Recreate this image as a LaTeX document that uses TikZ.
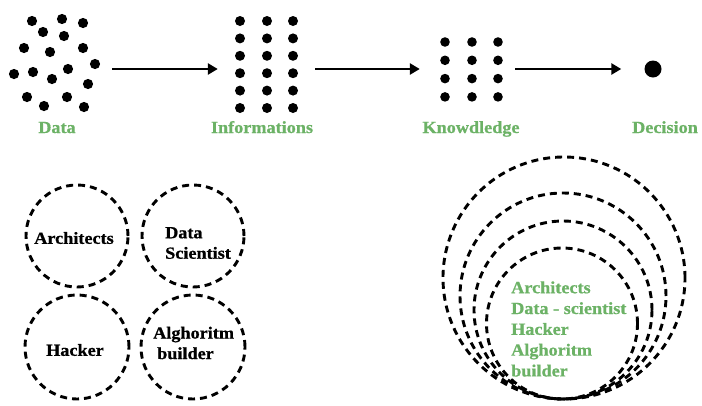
\documentclass[tikz,border=0pt]{standalone}
\usepackage{fontspec}
\setmainfont{Liberation Serif}[FakeStretch=1.07, BoldFeatures={FakeBold=0.8}]
\usetikzlibrary{arrows.meta}
\definecolor{lgreen}{RGB}{108,178,102}
\tikzset{
  dot/.style={fill=black},
  grp/.style={draw=none, inner sep=0pt, minimum height=90pt},
  arr/.style={line width=2.5pt, -{Triangle[length=10pt,width=11pt]}},
  lbl/.style={font=\fontsize{17}{20}\selectfont\bfseries, text=lgreen, inner sep=0pt},
  ctext/.style={font=\fontsize{17}{20.5}\selectfont\bfseries, text=black, inner sep=0pt, align=left},
  dcirc/.style={circle, draw=black, line width=2.9pt, dash pattern=on 7pt off 5pt, inner sep=0pt},
}
\begin{document}
\begin{tikzpicture}[x=1pt,y=-1pt]
\useasboundingbox (0,0) rectangle (702,405);
% Data dots
\foreach \p in {(32,21),(62,19),(83,23),(43,32),(64,36),(24,48),(50,52),(83,48),(95,64),(14,74),(33,72),(68,69),(52,79),(88,84),(27,97),(44,106),(67,97),(84,107)}
  \fill[dot] \p circle (5.1pt);
% Information dots
\foreach \x in {240,267,293}
  \foreach \k in {0,...,5}
    \fill[dot] (\x,21+17.4*\k) circle (5pt);
% Knowledge dots
\foreach \x in {445,472,498}
  \foreach \k in {0,...,3}
    \fill[dot] (\x,42+18.3*\k) circle (4.8pt);
% group nodes
\node[grp, minimum width=91pt] (data) at (54.5,69) {};
\node[grp, minimum width=63pt] (info) at (266.5,69) {};
\node[grp, minimum width=61pt] (know) at (471.5,69) {};
\node[circle, fill=black, minimum size=17pt, inner sep=0pt] (dec) at (653,69) {};
% arrows
\draw[arr, shorten <=12pt, shorten >=17pt] (data.east) -- (info.west);
\draw[arr, shorten <=17pt, shorten >=21pt] (info.east) -- (know.west);
\draw[arr, shorten <=13pt, shorten >=23pt] (know.east) -- (dec.west);
% labels
\node[lbl, anchor=base] (ldata) at (57,133) {Data};
\node[lbl, anchor=base] (linfo) at (262,133) {Informations};
\node[lbl, anchor=base] (lknow) at (471,133) {Knowdledge};
\node[lbl, anchor=base] (ldec) at (665,133) {Decision};
% left circles
\node[dcirc, minimum size=102pt] (c1) at (77,236) {};
\node[dcirc, minimum size=102pt] (c2) at (193,236) {};
\node[dcirc, minimum size=104pt] (c3) at (77,347) {};
\node[dcirc, minimum size=104pt] (c4) at (193,347) {};
\node[ctext] (t1) at (74,238) {Architects};
\node[ctext, anchor=west] (t2) at (165,243) {Data\\Scientist};
\node[ctext] (t3) at (75,350) {Hacker};
\node[ctext, anchor=west] (t4) at (153,343) {Alghoritm\\\hspace*{4pt}builder};
% right concentric circles
\node[dcirc, minimum size=242pt] (r1) at (564,278) {};
\node[dcirc, minimum size=206pt] (r2) at (563,296) {};
\node[dcirc, minimum size=178pt] (r3) at (563,310) {};
\node[dcirc, minimum size=151pt] (r4) at (562,323.5) {};
\node[ctext, text=lgreen, anchor=west, font=\fontsize{17}{20.8}\selectfont\bfseries] (rt) at (511,329) {Architects\\Data - scientist\\Hacker\\Alghoritm\\builder};
\end{tikzpicture}
\end{document}
